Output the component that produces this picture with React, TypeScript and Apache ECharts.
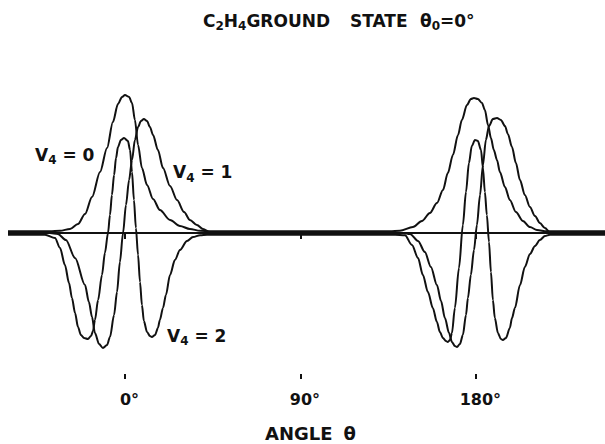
import React, { useEffect, useRef } from "react";
import * as echarts from "echarts";

// Wavefunction amplitudes [angle θ in degrees, amplitude], one lobe set near 0° and one near 180°.
const v4Zero: [number, number][] = [
  [-60, 0.012], [-38.5, 0.012], [-33.3, 0.016], [-28.2, 0.029], [-24.1, 0.065], [-20.5, 0.138],
  [-16.9, 0.261], [-12.8, 0.442], [-9.2, 0.616], [-6.2, 0.804], [-3.6, 0.935], [-1.5, 0.986],
  [0, 1.0], [2.1, 0.986], [3.6, 0.942], [5.1, 0.819], [6.7, 0.638], [8.7, 0.471], [11.3, 0.348],
  [14.4, 0.246], [17.9, 0.167], [23.1, 0.094], [28.2, 0.051], [33.3, 0.029], [38.5, 0.016], [43.6, 0.012],
  [135.9, 0.012], [141.0, 0.016], [147.7, 0.043], [152.3, 0.087], [156.4, 0.145], [160.0, 0.217],
  [163.1, 0.312], [165.6, 0.435], [168.2, 0.565], [170.8, 0.71], [172.8, 0.819], [175.4, 0.928],
  [177.4, 0.971], [179.0, 0.978], [181.0, 0.971], [183.1, 0.942], [184.6, 0.891], [186.2, 0.783],
  [187.7, 0.688], [189.2, 0.601], [190.8, 0.529], [192.3, 0.442], [194.9, 0.333], [197.4, 0.239],
  [200.5, 0.152], [204.1, 0.087], [207.7, 0.043], [211.3, 0.022], [216.4, 0.012], [246.2, 0.012],
];

const v4One: [number, number][] = [
  [-60, 0], [-38.5, 0], [-34.4, -0.007], [-30.3, -0.051], [-25.6, -0.181], [-20.5, -0.377],
  [-18.5, -0.5], [-16.9, -0.609], [-15.4, -0.725], [-13.3, -0.804], [-11.3, -0.833], [-9.2, -0.812],
  [-7.7, -0.754], [-5.6, -0.594], [-4.1, -0.428], [-2.6, -0.21], [-1.0, 0], [0.5, 0.203], [2.1, 0.384],
  [3.6, 0.529], [5.1, 0.674], [6.7, 0.768], [8.2, 0.812], [9.7, 0.826], [11.3, 0.812], [12.8, 0.768],
  [14.4, 0.71], [16.9, 0.601], [19.5, 0.471], [23.1, 0.341], [26.7, 0.239], [30.3, 0.152], [33.3, 0.094],
  [36.9, 0.058], [40.0, 0.029], [43.6, 0.007], [47.7, 0],
  [138.5, 0], [142.6, 0], [146.2, -0.007], [150.3, -0.058], [153.8, -0.138], [156.9, -0.246],
  [160.0, -0.377], [162.1, -0.493], [164.1, -0.616], [166.2, -0.725], [167.7, -0.79], [169.2, -0.819],
  [170.3, -0.826], [171.8, -0.804], [173.3, -0.739], [174.9, -0.594], [175.9, -0.471], [177.4, -0.304],
  [179.0, -0.123], [180.5, 0.058], [182.1, 0.275], [183.6, 0.493], [185.1, 0.674], [186.7, 0.775],
  [188.7, 0.826], [190.8, 0.833], [192.8, 0.819], [194.9, 0.775], [196.4, 0.717], [198.5, 0.623],
  [200.5, 0.507], [202.6, 0.384], [205.1, 0.275], [207.7, 0.188], [210.3, 0.123], [212.8, 0.072],
  [215.4, 0.036], [217.9, 0.007], [222.1, 0], [246.2, 0],
];

const v4Two: [number, number][] = [
  [-60, -0.012], [-41.0, -0.012], [-35.9, -0.036], [-33.3, -0.109], [-30.8, -0.232], [-28.7, -0.362],
  [-27.2, -0.471], [-25.6, -0.58], [-24.1, -0.681], [-22.6, -0.739], [-21.0, -0.761], [-19.0, -0.768],
  [-17.4, -0.746], [-16.4, -0.71], [-15.4, -0.63], [-13.8, -0.486], [-11.8, -0.304], [-10.3, -0.145],
  [-8.7, 0], [-7.7, 0.13], [-6.7, 0.275], [-5.6, 0.42], [-4.6, 0.543], [-3.6, 0.623], [-2.1, 0.674],
  [-0.5, 0.688], [1.5, 0.667], [2.6, 0.601], [3.6, 0.442], [4.6, 0.239], [5.6, 0.036], [6.7, -0.159],
  [7.7, -0.355], [8.7, -0.522], [9.7, -0.638], [11.3, -0.717], [12.8, -0.746], [13.8, -0.754],
  [15.4, -0.739], [16.9, -0.688], [17.9, -0.63], [19.5, -0.543], [21.0, -0.449], [23.1, -0.304],
  [25.6, -0.196], [28.2, -0.123], [31.8, -0.058], [34.9, -0.029], [38.5, -0.016], [42.1, -0.012],
  [138.5, -0.012], [143.6, -0.016], [147.2, -0.087], [150.3, -0.181], [152.8, -0.304], [155.4, -0.428],
  [157.9, -0.543], [160.0, -0.645], [161.5, -0.717], [163.1, -0.761], [164.6, -0.783], [165.6, -0.79],
  [166.7, -0.775], [167.7, -0.725], [169.2, -0.543], [171.3, -0.254], [173.3, 0.058], [174.9, 0.297],
  [176.4, 0.507], [177.9, 0.63], [179.5, 0.674], [181.0, 0.667], [182.6, 0.601], [183.6, 0.471],
  [184.6, 0.297], [185.6, 0.13], [186.7, -0.065], [187.7, -0.283], [188.7, -0.486], [189.7, -0.616],
  [191.3, -0.725], [192.8, -0.768], [193.8, -0.775], [195.4, -0.761], [197.4, -0.688], [198.5, -0.616],
  [200.0, -0.543], [202.6, -0.377], [205.1, -0.246], [207.7, -0.152], [210.3, -0.094], [212.8, -0.051],
  [215.4, -0.022], [217.9, -0.012], [246.2, -0.012],
];

const tickAngles = [0, 90, 180];
// the curves run a little further left than the drawn angle axis
const curveMin = -60;
const axisMin = -47.7;
const angleMax = 246.2;
const ampMin = -1.058;
const ampMax = 1.2;

const INK = "#111";
const FONT = "DejaVu Sans";

// Equal-height rich tokens; padding places the subscript below the capitals.
const main = { fontSize: 17, fontWeight: "bold", fontFamily: FONT, lineHeight: 17, padding: [0, 0, 6, 0], fill: INK };
const sub = { fontSize: 12, fontWeight: "bold", fontFamily: FONT, lineHeight: 12, padding: [8, 0, 3, 0], fill: INK };

function label(text: string, x: number, y: number, rich: Record<string, any> = { m: main, s: sub }) {
  return {
    type: "text",
    x,
    y,
    silent: true,
    style: { text, rich, fill: INK, align: "left", verticalAlign: "top" },
  };
}

export default function App() {
  const ref = useRef<HTMLDivElement>(null);

  useEffect(() => {
    if (!ref.current) return;
    const chart = echarts.init(ref.current, undefined, { renderer: "svg" });

    const curve = (name: string, data: [number, number][]) => ({
      name,
      type: "line",
      data,
      xAxisIndex: 0,
      yAxisIndex: 0,
      showSymbol: false,
      symbol: "none",
      smooth: 0.3,
      smoothMonotone: "x",
      silent: true,
      lineStyle: { color: INK, width: 2 },
    });

    const tickLine = { color: INK, width: 2 };

    chart.setOption({
      animation: false,
      backgroundColor: "#fff",
      grid: [
        { left: 8, width: 597, top: 67.4, height: 311.6 },
        { left: 32, width: 573, top: 67.4, height: 311.6 },
      ],
      xAxis: [
        { type: "value", gridIndex: 0, min: curveMin, max: angleMax, show: false },
        {
          type: "value",
          gridIndex: 1,
          min: axisMin,
          max: angleMax,
          position: "bottom",
          axisLine: { show: true, lineStyle: { color: INK, width: 2 } },
          axisTick: { show: true, customValues: tickAngles, length: 6, lineStyle: tickLine },
          axisLabel: {
            customValues: tickAngles,
            margin: 12,
            formatter: (v: number) => `{n|${v}}{d|°}`,
            rich: {
              n: { fontSize: 16, fontWeight: "bold", fontFamily: FONT, color: INK, lineHeight: 16, padding: [0, 0, 0, 9] },
              d: { fontSize: 16, fontWeight: "bold", fontFamily: FONT, color: INK, lineHeight: 16 },
            },
          },
          splitLine: { show: false },
        },
        {
          type: "value",
          gridIndex: 1,
          min: axisMin,
          max: angleMax,
          position: "bottom",
          axisLine: { show: false },
          axisTick: { show: true, inside: true, customValues: tickAngles, length: 5, lineStyle: tickLine },
          axisLabel: { show: false },
          splitLine: { show: false },
        },
      ],
      yAxis: [
        { type: "value", gridIndex: 0, min: ampMin, max: ampMax, show: false },
        { type: "value", gridIndex: 1, min: ampMin, max: ampMax, show: false },
      ],
      series: [curve("V4 = 0", v4Zero), curve("V4 = 1", v4One), curve("V4 = 2", v4Two)],
      graphic: [
        label("{m|C}{s|2}{m|H}{s|4}{m|GROUND}", 203, 15),
        label("{m|STATE}", 350, 15),
        label("{m|θ}{s|0}{m|=0°}", 420, 15),
        label("{m|V}{s|4}{m| = 0}", 35, 149),
        label("{m|V}{s|4}{m| = 1}", 173, 166.5),
        label("{m|V}{s|4}{m| = 2}", 167, 330),
        label("{a|ANGLE}{t|θ}", 265, 426.5, {
          a: { fontSize: 18, fontWeight: "bold", fontFamily: FONT, lineHeight: 14, fill: INK },
          t: { fontSize: 18, fontWeight: "bold", fontFamily: FONT, lineHeight: 14, fill: INK, padding: [0, 0, 0, 11] },
        }),
      ],
    });

    return () => chart.dispose();
  }, []);

  return (
    <div
      ref={ref}
      style={{ position: "fixed", left: 0, top: 0, width: 605, height: 444, background: "#fff" }}
    />
  );
}
